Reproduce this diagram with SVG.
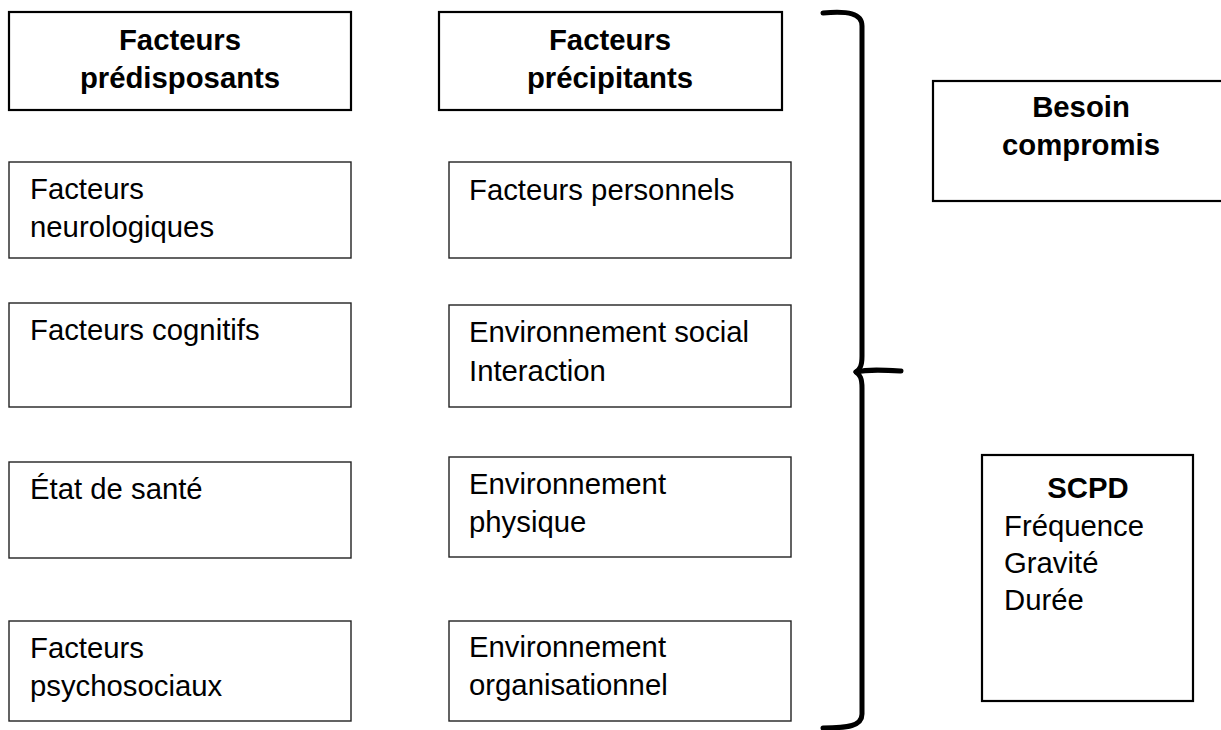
<svg xmlns="http://www.w3.org/2000/svg" width="1221" height="730" viewBox="0 0 1221 730">
<style>
  .box { fill: #ffffff; stroke: #222222; stroke-width: 1.4; }
  .hbox { fill: #ffffff; stroke: #000000; stroke-width: 2.2; }
  .t { font-family: "Liberation Sans", Arial, sans-serif; font-size: 29.3px; fill: #000000; }
  .b { font-family: "Liberation Sans", Arial, sans-serif; font-size: 29.3px; font-weight: bold; fill: #000000; text-anchor: middle; }
  .brace { fill: none; stroke: #000000; stroke-width: 5; stroke-linecap: round; stroke-linejoin: round; }
</style>
<rect width="1221" height="730" fill="#ffffff"/>

<g id="hdr-predisposants">
  <rect class="hbox" x="9" y="12" width="342" height="98"/>
  <text class="b" x="180" y="50">Facteurs</text>
  <text class="b" x="180" y="88">prédisposants</text>
</g>
<g id="hdr-precipitants">
  <rect class="hbox" x="439" y="12" width="343" height="98"/>
  <text class="b" x="610" y="50">Facteurs</text>
  <text class="b" x="610" y="88">précipitants</text>
</g>

<g id="neurologiques">
  <rect class="box" x="9" y="162" width="342" height="96"/>
  <text class="t" x="30" y="199">Facteurs</text>
  <text class="t" x="30" y="237">neurologiques</text>
</g>
<g id="cognitifs">
  <rect class="box" x="9" y="303" width="342" height="104"/>
  <text class="t" x="30" y="340">Facteurs cognitifs</text>
</g>
<g id="sante">
  <rect class="box" x="9" y="462" width="342" height="96"/>
  <text class="t" x="30" y="499">État de santé</text>
</g>
<g id="psychosociaux">
  <rect class="box" x="9" y="621" width="342" height="100"/>
  <text class="t" x="30" y="658">Facteurs</text>
  <text class="t" x="30" y="696">psychosociaux</text>
</g>

<g id="personnels">
  <rect class="box" x="449" y="162" width="342" height="96"/>
  <text class="t" x="469" y="200">Facteurs personnels</text>
</g>
<g id="social">
  <rect class="box" x="449" y="305" width="342" height="102"/>
  <text class="t" x="469" y="342">Environnement social</text>
  <text class="t" x="469" y="381">Interaction</text>
</g>
<g id="physique">
  <rect class="box" x="449" y="457" width="342" height="100"/>
  <text class="t" x="469" y="494">Environnement</text>
  <text class="t" x="469" y="532">physique</text>
</g>
<g id="organisationnel">
  <rect class="box" x="449" y="621" width="342" height="100"/>
  <text class="t" x="469" y="657">Environnement</text>
  <text class="t" x="469" y="695">organisationnel</text>
</g>

<g id="connectors">
  <path class="brace" d="M823,13 C848,11 862,13 862,26 L862,356 C862,366 860,369 856,372 C860,375 862,378 862,388 L862,714 C862,726 848,728 823,728"/>
  <path class="brace" d="M856,372 C868,369 884,370 901,371"/>
</g>

<g id="besoin">
  <rect class="hbox" x="933" y="81" width="296" height="120"/>
  <text class="b" x="1081" y="117">Besoin</text>
  <text class="b" x="1081" y="155">compromis</text>
</g>
<g id="scpd">
  <rect class="hbox" x="982" y="455" width="211" height="246"/>
  <text class="b" x="1088" y="498">SCPD</text>
  <text class="t" x="1004" y="536">Fréquence</text>
  <text class="t" x="1004" y="573">Gravité</text>
  <text class="t" x="1004" y="610">Durée</text>
</g>
</svg>
